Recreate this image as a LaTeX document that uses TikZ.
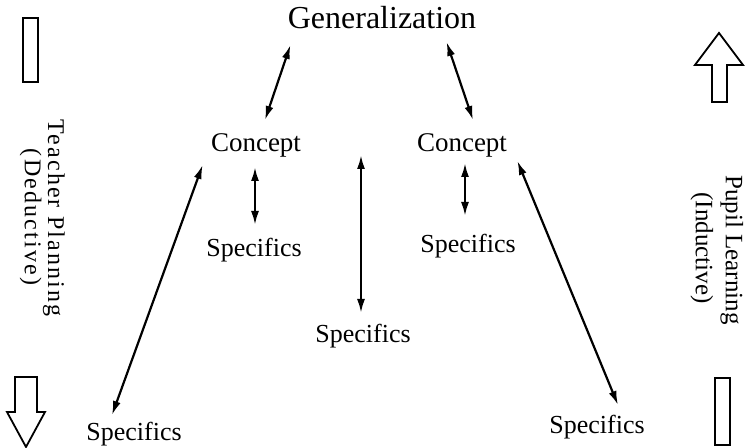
\documentclass[tikz,border=0pt]{standalone}
\usepackage{fontspec}
\setmainfont{Liberation Serif}
\newfontfamily\ladoizq[LetterSpace=9]{Liberation Serif}
\newfontfamily\ladoder[LetterSpace=0]{Liberation Serif}
\usetikzlibrary{arrows.meta}
\begin{document}
\begin{tikzpicture}[x=0.5pt,y=-0.5pt,
    etiqueta/.style={inner sep=0pt, anchor=base},
    general/.style={etiqueta, font=\fontsize{16}{18}\selectfont},
    concepto/.style={etiqueta, font=\fontsize{13.5}{16}\selectfont},
    especifico/.style={etiqueta, font=\fontsize{13}{15}\selectfont},
    lado/.style={etiqueta, rotate=-90},
    doble/.style={{Latex[length=7pt,width=4pt]}-{Latex[length=7pt,width=4pt]}, line width=1.1pt},
    hueca/.style={draw, line width=0.9pt, line join=miter}]
    % Fijar el tamano del dibujo
    \useasboundingbox (0,0) rectangle (752,448);

    % Colocar los textos principales
    \node[general] (gen) at (382,29) {Generalization};
    \node[concepto] (conI) at (256,152) {Concept};
    \node[concepto] (conD) at (462,152) {Concept};
    \node[especifico] (espI) at (254,257) {Specifics};
    \node[especifico] (espD) at (468,253) {Specifics};
    \node[especifico] (espC) at (363,343) {Specifics};
    \node[especifico] (espAI) at (134,441) {Specifics};
    \node[especifico] (espAD) at (597,434) {Specifics};

    % Dibujar las flechas dobles
    \draw[doble] ([shift={(3,16)}]gen.base west) -- ([shift={(9,-32)}]conI.base);
    \draw[doble] ([shift={(-30,13)}]gen.base east) -- ([shift={(11,-32)}]conD.base);
    \draw[doble] ([shift={(-8,13)}]conI.base west) -- ([shift={(-22,-26)}]espAI.base);
    \draw[doble] ([shift={(-1,15)}]conI.base) -- ([shift={(1,-32)}]espI.base);
    \draw[doble] ([shift={(-21,126)}]gen.base) -- ([shift={(-2,-30)}]espC.base);
    \draw[doble] ([shift={(3,11)}]conD.base) -- ([shift={(-3,-37)}]espD.base);
    \draw[doble] ([shift={(10,9)}]conD.base east) -- ([shift={(21,-29)}]espAD.base);

    % Lado izquierdo: planificacion del maestro
    \draw[hueca] (23,18) rectangle (38,82);
    \node[lado, font=\fontsize{12}{14}\selectfont] (maestro) at (48,218) {\ladoizq Teacher Planning};
    \node[lado, font=\fontsize{12}{14}\selectfont] (deduc) at (25,217) {\ladoizq (Deductive)};
    \draw[hueca] (15,377) -- (37,377) -- (37,412) -- (45,412) -- (26,447)
        -- (7,412) -- (15,412) -- cycle;

    % Lado derecho: aprendizaje del alumno
    \draw[hueca] (712,102) -- (727,102) -- (727,65) -- (743,65) -- (719,33)
        -- (695,65) -- (712,65) -- cycle;
    \node[lado, font=\fontsize{12.5}{15}\selectfont] (alumno) at (726,250) {\ladoder Pupil Learning};
    \node[lado, font=\fontsize{12.5}{15}\selectfont] (induc) at (696,248) {\ladoder (Inductive)};
    \draw[hueca] (715,378) rectangle (730,445);
\end{tikzpicture}
\end{document}
